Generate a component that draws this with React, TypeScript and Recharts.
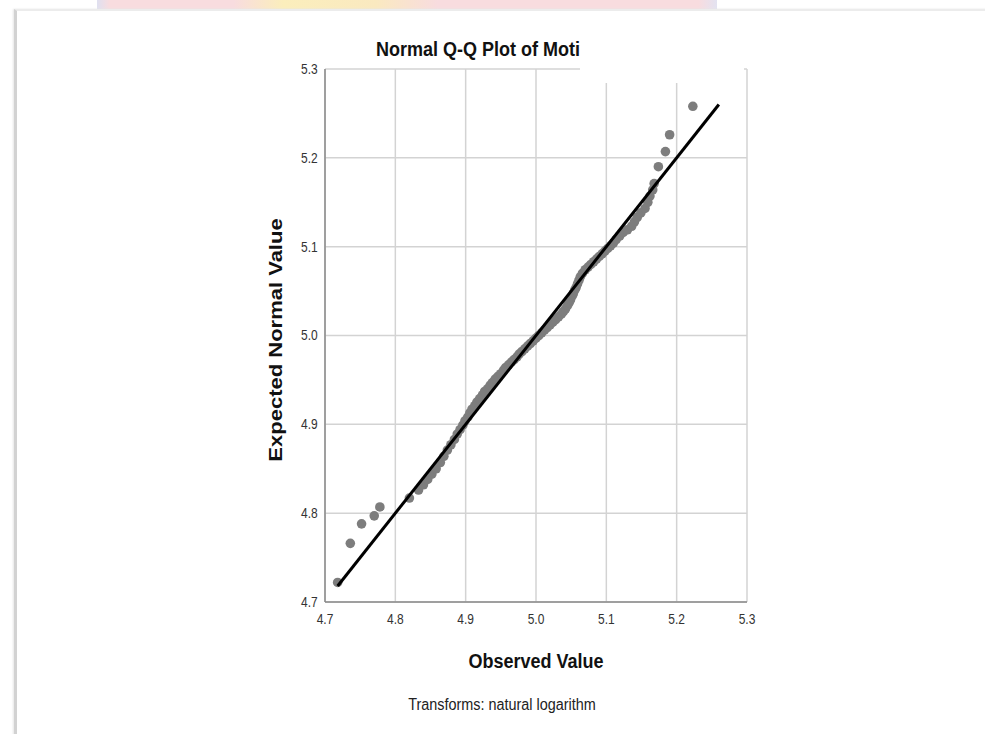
import { ScatterChart, Scatter, XAxis, YAxis, CartesianGrid } from "recharts";

const OBSERVED = [
  4.718, 4.736, 4.752, 4.770, 4.778, 4.820, 4.833, 4.840, 4.846, 4.852,
  4.858, 4.864, 4.869, 4.874, 4.879, 4.884, 4.888, 4.892, 4.896, 4.899,
  4.903, 4.906, 4.909, 4.913, 4.916, 4.920, 4.924, 4.927, 4.931, 4.935,
  4.938, 4.942, 4.946, 4.950, 4.954, 4.957, 4.961, 4.965, 4.969, 4.973,
  4.976, 4.980, 4.984, 4.988, 4.992, 4.996, 5.000, 5.004, 5.008, 5.012,
  5.016, 5.020, 5.024, 5.028, 5.032, 5.036, 5.039, 5.042, 5.045, 5.047,
  5.049, 5.051, 5.053, 5.055, 5.057, 5.059, 5.061, 5.063, 5.066, 5.070,
  5.074, 5.078, 5.082, 5.086, 5.090, 5.094, 5.098, 5.102, 5.106, 5.110,
  5.114, 5.119, 5.124, 5.130, 5.136, 5.140, 5.144, 5.149, 5.155, 5.159,
  5.162, 5.166, 5.168, 5.174, 5.184, 5.190, 5.223,
];

// expected normal values
const EXPECTED = [
  4.722, 4.766, 4.788, 4.797, 4.807, 4.817, 4.826, 4.832, 4.838, 4.844,
  4.850, 4.857, 4.864, 4.871, 4.877, 4.883, 4.889, 4.894, 4.899, 4.904,
  4.908, 4.913, 4.917, 4.921, 4.925, 4.929, 4.933, 4.937, 4.940, 4.944,
  4.947, 4.951, 4.954, 4.957, 4.961, 4.964, 4.967, 4.970, 4.973, 4.976,
  4.979, 4.982, 4.985, 4.988, 4.991, 4.994, 4.997, 5.000, 5.003, 5.006,
  5.009, 5.012, 5.015, 5.018, 5.021, 5.024, 5.027, 5.030, 5.034, 5.037,
  5.040, 5.044, 5.047, 5.051, 5.054, 5.058, 5.062, 5.066, 5.070, 5.074,
  5.077, 5.080, 5.083, 5.086, 5.089, 5.092, 5.095, 5.098, 5.101, 5.104,
  5.108, 5.112, 5.116, 5.119, 5.123, 5.128, 5.133, 5.138, 5.143, 5.150,
  5.157, 5.164, 5.171, 5.190, 5.207, 5.226, 5.258,
];

// ends of the reference line y = x
const LINE_X = [4.718, 5.26];
const LINE_Y = [4.718, 5.26];

const TICKS = [4.7, 4.8, 4.9, 5.0, 5.1, 5.2, 5.3];

const points = OBSERVED.map((x, i) => ({ x, y: EXPECTED[i] }));
const linePts = LINE_X.map((x, i) => ({ x, y: LINE_Y[i] }));

const FONT = "'Liberation Sans', Arial, sans-serif";

const XTick = ({ x, y, payload }: any) => (
  <text
    x={x}
    y={y + 14}
    textAnchor="middle"
    fontSize={15}
    fill="#333"
    fontFamily={FONT}
    transform={`translate(${x} 0) scale(0.8 1) translate(${-x} 0)`}
  >
    {payload.value.toFixed(1)}
  </text>
);

const YTick = ({ x, y, payload }: any) => (
  <text
    x={x + 1}
    y={y + 5}
    textAnchor="end"
    fontSize={15}
    fill="#333"
    fontFamily={FONT}
    transform={`translate(${x} 0) scale(0.8 1) translate(${-x} 0)`}
  >
    {payload.value.toFixed(1)}
  </text>
);

const Dot = (p: any) => <circle cx={p.cx} cy={p.cy} r={4.8} fill="#7d7d7d" />;

export default function App() {
  return (
    <div
      style={{
        position: "absolute",
        left: 0,
        top: 0,
        width: 985,
        height: 734,
        overflow: "hidden",
        background: "#fff",
        fontFamily: FONT,
      }}
    >
      {/* watermark strip above the page */}
      <div
        style={{
          position: "absolute",
          left: 97,
          top: 0,
          width: 620,
          height: 10,
          background:
            "linear-gradient(90deg, #dfe0f0 0%, #f8dcdf 2%, #f8dcdf 22%, #fbeebc 30%, #fae9c0 45%, #f8dcdf 55%, #f8dcdf 97%, #e3e3f1 100%)",
        }}
      />
      {/* page edge */}
      <div
        style={{
          position: "absolute",
          left: 14,
          top: 9,
          width: 990,
          height: 740,
          borderTop: "2px solid #ececec",
          borderLeft: "3px solid #d2d2d2",
          boxShadow: "-1px 0 2px #e6e6e6",
          background: "#fff",
        }}
      />

      <div style={{ position: "absolute", left: 0, top: 0 }}>
        <ScatterChart width={985} height={734} margin={{ top: 69, right: 238, bottom: 102, left: 295 }}>
          <CartesianGrid stroke="#d3d3d3" strokeWidth={1.5} />
          <XAxis
            type="number"
            dataKey="x"
            domain={[4.7, 5.3]}
            ticks={TICKS}
            height={30}
            tickLine={false}
            axisLine={{ stroke: "#8a8a8a", strokeWidth: 1.5 }}
            tick={<XTick />}
            allowDataOverflow
          />
          <YAxis
            type="number"
            dataKey="y"
            domain={[4.7, 5.3]}
            ticks={TICKS}
            width={30}
            tickLine={false}
            axisLine={{ stroke: "#8a8a8a", strokeWidth: 1.5 }}
            tick={<YTick />}
            allowDataOverflow
          />
          <Scatter data={points} shape={<Dot />} isAnimationActive={false} />
          <Scatter
            data={linePts}
            line={{ stroke: "#000", strokeWidth: 3 }}
            shape={() => <g />}
            isAnimationActive={false}
          />
        </ScatterChart>
      </div>

      {/* title */}
      <div
        style={{
          position: "absolute",
          left: 376,
          top: 38,
          fontSize: 20,
          fontWeight: "bold",
          color: "#111",
          whiteSpace: "nowrap",
          transform: "scaleX(0.9)",
          transformOrigin: "left center",
        }}
      >
        Normal Q-Q Plot of Motivation
      </div>
      {/* white patch hiding the end of the title */}
      <div style={{ position: "absolute", left: 580, top: 24, width: 164, height: 59, background: "#fff" }} />

      {/* y axis label */}
      <div
        style={{
          position: "absolute",
          left: 276,
          top: 340,
          fontSize: 22,
          fontWeight: "bold",
          color: "#111",
          whiteSpace: "nowrap",
          transform: "translate(-50%, -50%) rotate(-90deg) scaleY(0.8)",
        }}
      >
        Expected Normal Value
      </div>

      {/* x axis label */}
      <div
        style={{
          position: "absolute",
          left: 536,
          top: 661,
          fontSize: 20,
          fontWeight: "bold",
          color: "#111",
          whiteSpace: "nowrap",
          transform: "translate(-50%, -50%) scaleX(0.9)",
        }}
      >
        Observed Value
      </div>

      <div
        style={{
          position: "absolute",
          left: 502,
          top: 705,
          fontSize: 16,
          color: "#222",
          whiteSpace: "nowrap",
          transform: "translate(-50%, -50%) scaleX(0.9)",
        }}
      >
        Transforms: natural logarithm
      </div>
    </div>
  );
}
